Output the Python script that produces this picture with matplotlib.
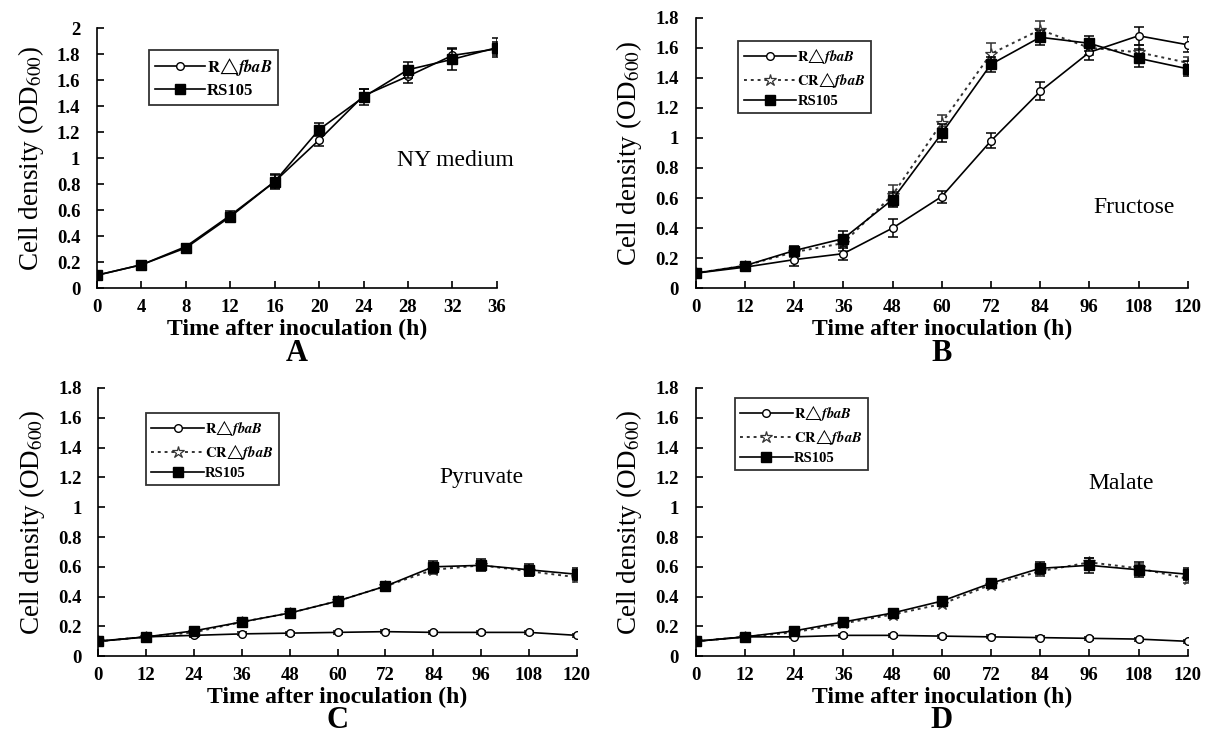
import numpy as np
import matplotlib
matplotlib.use("Agg")
from matplotlib import pyplot as plt

plt.rcParams['font.family'] = ['Liberation Serif', 'DejaVu Serif']
plt.rcParams['mathtext.fontset'] = 'stix'

# A: NY medium
time_a = [0, 4, 8, 12, 16, 20, 24, 28, 32, 36]
r_a = [0.10, 0.18, 0.32, 0.56, 0.82, 1.14, 1.48, 1.63, 1.79, 1.84]
r_a_err = [0.01, 0.01, 0.02, 0.03, 0.06, 0.05, 0.05, 0.05, 0.06, 0.05]
rs_a = [0.10, 0.18, 0.31, 0.55, 0.82, 1.22, 1.47, 1.68, 1.76, 1.85]
rs_a_err = [0.01, 0.01, 0.02, 0.03, 0.05, 0.05, 0.06, 0.06, 0.08, 0.07]

time_b = [0, 12, 24, 36, 48, 60, 72, 84, 96, 108, 120]
# B: Fructose
r_b = [0.10, 0.14, 0.19, 0.23, 0.40, 0.61, 0.98, 1.31, 1.57, 1.68, 1.62]
r_b_err = [0.01, 0.02, 0.04, 0.04, 0.06, 0.04, 0.05, 0.06, 0.05, 0.06, 0.05]
cr_b = [0.10, 0.15, 0.24, 0.30, 0.62, 1.10, 1.56, 1.72, 1.60, 1.57, 1.50]
cr_b_err = [0.01, 0.02, 0.03, 0.05, 0.07, 0.05, 0.07, 0.06, 0.05, 0.05, 0.04]
rs_b = [0.10, 0.15, 0.25, 0.33, 0.59, 1.03, 1.49, 1.67, 1.63, 1.53, 1.46]
rs_b_err = [0.01, 0.02, 0.03, 0.05, 0.05, 0.06, 0.05, 0.05, 0.05, 0.06, 0.05]
# C: Pyruvate
r_c = [0.10, 0.13, 0.14, 0.15, 0.155, 0.16, 0.165, 0.16, 0.16, 0.16, 0.14]
r_c_err = [0.01, 0.01, 0.01, 0.01, 0.01, 0.01, 0.01, 0.01, 0.01, 0.01, 0.01]
cr_c = [0.10, 0.13, 0.16, 0.23, 0.29, 0.37, 0.47, 0.58, 0.61, 0.57, 0.53]
cr_c_err = [0.01, 0.01, 0.01, 0.01, 0.01, 0.01, 0.01, 0.03, 0.03, 0.03, 0.03]
rs_c = [0.10, 0.13, 0.17, 0.23, 0.29, 0.37, 0.47, 0.60, 0.61, 0.58, 0.55]
rs_c_err = [0.01, 0.01, 0.01, 0.01, 0.01, 0.01, 0.02, 0.04, 0.04, 0.04, 0.04]
# D: Malate
r_d = [0.10, 0.13, 0.13, 0.14, 0.14, 0.135, 0.13, 0.125, 0.12, 0.115, 0.10]
r_d_err = [0.01, 0.01, 0.01, 0.01, 0.01, 0.01, 0.01, 0.01, 0.01, 0.01, 0.01]
cr_d = [0.10, 0.13, 0.16, 0.22, 0.28, 0.35, 0.48, 0.57, 0.63, 0.59, 0.52]
cr_d_err = [0.01, 0.01, 0.01, 0.01, 0.01, 0.01, 0.01, 0.03, 0.03, 0.03, 0.03]
rs_d = [0.10, 0.13, 0.17, 0.23, 0.29, 0.37, 0.49, 0.59, 0.61, 0.58, 0.55]
rs_d_err = [0.01, 0.01, 0.01, 0.01, 0.01, 0.01, 0.02, 0.04, 0.05, 0.05, 0.04]

lab_r = r"$\mathbf{R}" + "\u25b3" + r"\mathbfit{fbaB}$"
lab_cr = r"$\mathbf{CR}" + "\u25b3" + r"\mathbfit{fbaB}$"
lab_rs = "RS105"

fig = plt.figure(figsize=(12.12, 7.39), dpi=100)

# 坐标轴位置
ax_a = fig.add_axes([0.080, 0.610, 0.330, 0.352])
ax_b = fig.add_axes([0.574, 0.610, 0.406, 0.366])
ax_c = fig.add_axes([0.081, 0.112, 0.395, 0.363])
ax_d = fig.add_axes([0.574, 0.112, 0.406, 0.363])

styles = {
    "r": dict(color="black", lw=1.2, ls="-", marker="o", ms=5.5, mfc="white",
              mec="black", mew=1.0, zorder=3),
    "cr": dict(color="#333333", lw=1.4, ls=(0, (1.5, 2)), marker="*", ms=9,
               mfc="white", mec="#333333", mew=0.9, zorder=2),
    "rs": dict(color="black", lw=1.2, ls="-", marker="s", ms=7, mfc="black",
               mec="black", mew=1.0, zorder=4),
}

def draw(ax, t, series, xmax, ymax, step_x, note, note_xy, letter, letter_y,
         leg_loc, leg_size, leg_hl):
    for y, e, lab, style in series:
        st = styles[style]
        ax.errorbar(t, y, yerr=e, fmt="none", ecolor=st["color"], elinewidth=1.1,
                    capsize=3.5, capthick=1.1, zorder=st["zorder"])
        ax.plot(t, y, label=lab, **st)
    ax.set_xlim(0, xmax)
    ax.set_ylim(0, ymax)
    ax.set_xticks(np.arange(0, xmax + 1, step_x))
    yt = np.round(np.arange(0, ymax + 0.001, 0.2), 1)
    ax.set_yticks(yt)
    ax.set_yticklabels(["{:g}".format(v) for v in yt])
    ax.spines["top"].set_visible(False)
    ax.spines["right"].set_visible(False)
    ax.spines["left"].set_linewidth(1.2)
    ax.spines["bottom"].set_linewidth(1.2)
    ax.tick_params(axis="x", direction="in", length=5, width=1.2, pad=8)
    ax.tick_params(axis="y", direction="in", length=5, width=1.2, pad=12)
    for lb in ax.get_xticklabels() + ax.get_yticklabels():
        lb.set_fontweight("bold")
        lb.set_fontsize(13.5)
    ax.set_xlabel("Time after inoculation (h)", fontsize=17, fontweight="bold", labelpad=2)
    ax.set_ylabel("Cell density (OD$_{600}$)", fontsize=19.5, labelpad=8)
    ax.text(note_xy[0], note_xy[1], note, transform=ax.transAxes, fontsize=17,
            ha="center", va="center")
    pos = ax.get_position()
    fig.text((pos.x0 + pos.x1) / 2, letter_y, letter, fontsize=22,
             fontweight="bold", ha="center", va="center")
    handles, labels = ax.get_legend_handles_labels()
    leg = ax.legend(handles, labels, loc="upper left", bbox_to_anchor=leg_loc,
                    frameon=True, fancybox=False, edgecolor="black", handlelength=leg_hl,
                    handletextpad=0.1, borderpad=0.35, labelspacing=0.3,
                    prop={"weight": "bold", "size": leg_size})
    leg.get_frame().set_linewidth(1.3)

draw(ax_a, time_a, [(r_a, r_a_err, lab_r, "r"), (rs_a, rs_a_err, lab_rs, "rs")],
     36, 2.0, 4, "NY medium", (0.895, 0.49), "A", 1 - 353 / 739, (0.11, 0.946), 12, 3.0)
draw(ax_b, time_b, [(r_b, r_b_err, lab_r, "r"), (cr_b, cr_b_err, lab_cr, "cr"),
                    (rs_b, rs_b_err, lab_rs, "rs")],
     120, 1.8, 12, "Fructose", (0.89, 0.30), "B", 1 - 353 / 739, (0.072, 0.942), 10.5, 3.6)
draw(ax_c, time_b, [(r_c, r_c_err, lab_r, "r"), (cr_c, cr_c_err, lab_cr, "cr"),
                    (rs_c, rs_c_err, lab_rs, "rs")],
     120, 1.8, 12, "Pyruvate", (0.80, 0.665), "C", 1 - 720 / 739, (0.085, 0.935), 10.5, 3.6)
draw(ax_d, time_b, [(r_d, r_d_err, lab_r, "r"), (cr_d, cr_d_err, lab_cr, "cr"),
                    (rs_d, rs_d_err, lab_rs, "rs")],
     120, 1.8, 12, "Malate", (0.865, 0.645), "D", 1 - 720 / 739, (0.065, 0.99), 10.5, 3.6)

fig.savefig("out.png", dpi=100)
